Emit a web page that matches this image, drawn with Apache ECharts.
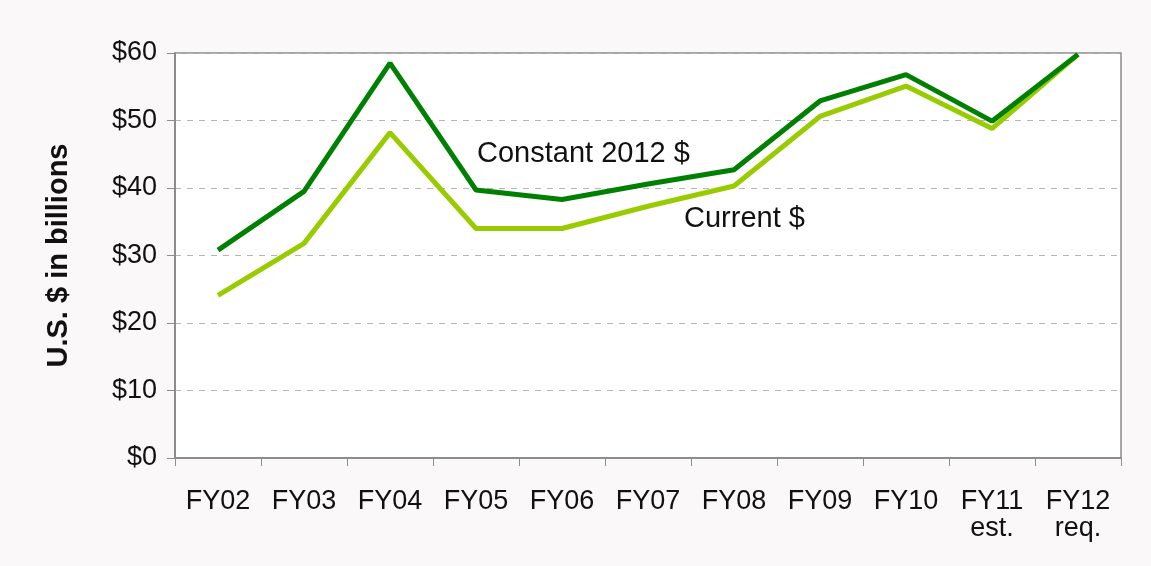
<!DOCTYPE html>
<html>
<head>
<meta charset="utf-8">
<script src="https://cdn.jsdelivr.net/npm/echarts@6/dist/echarts.min.js"></script>
<style>
  html, body { margin: 0; padding: 0; background: #faf8f9; }
  #chart { width: 1151px; height: 566px; }
</style>
</head>
<body>
<div id="chart"></div>
<script>
  // fiscal years
  var years = ['FY02', 'FY03', 'FY04', 'FY05', 'FY06', 'FY07', 'FY08', 'FY09', 'FY10', 'FY11\nest.', 'FY12\nreq.']
  // US $ in billions
  var constant2012 = [30.8, 39.5, 58.5, 39.7, 38.3, 40.6, 42.7, 52.9, 56.8, 49.9, 59.8]
  var current = [24.1, 31.8, 48.2, 34.0, 34.0, 37.3, 40.3, 50.6, 55.1, 48.8, 59.8]
  var yTicks = [0, 10, 20, 30, 40, 50, 60]

  var font = 'Arial, "Liberation Sans", sans-serif'
  var myChart = echarts.init(document.getElementById('chart'))
  myChart.setOption({
    backgroundColor: '#faf8f9',
    animation: false,
    grid: {
      left: 175,
      right: 30,
      top: 53,
      bottom: 108,
      show: true,
      backgroundColor: '#fff',
      borderColor: '#8c8c8c',
      borderWidth: 1.5
    },
    xAxis: {
      type: 'category',
      data: years,
      boundaryGap: true,
      axisLine: { lineStyle: { color: '#8c8c8c', width: 2 } },
      axisTick: { show: true, length: 8, lineStyle: { color: '#8c8c8c', width: 1 } },
      axisLabel: {
        interval: 0,
        color: '#111',
        fontFamily: font,
        fontSize: 27,
        lineHeight: 27,
        margin: 30
      },
      splitLine: { show: false }
    },
    yAxis: {
      type: 'value',
      min: yTicks[0],
      max: yTicks[yTicks.length - 1],
      interval: 10,
      name: 'U.S. $ in billions',
      nameLocation: 'middle',
      nameRotate: 90,
      nameGap: 102,
      nameTextStyle: { color: '#111', fontFamily: font, fontSize: 29, fontWeight: 'bold' },
      axisLine: { show: true, lineStyle: { color: '#8c8c8c', width: 2 } },
      axisTick: { show: true, length: 8, lineStyle: { color: '#8c8c8c', width: 1 } },
      axisLabel: {
        color: '#111',
        fontFamily: font,
        fontSize: 27,
        margin: 18,
        formatter: function (v) { return '$' + v }
      },
      splitLine: { show: true, lineStyle: { color: '#b4b4b4', type: [6, 6], width: 1 } }
    },
    graphic: [
      { type: 'text', left: 477, top: 139, style: { text: 'Constant 2012 $', fill: '#111', font: '29px ' + font } },
      { type: 'text', left: 684, top: 204, style: { text: 'Current $', fill: '#111', font: '29px ' + font } }
    ],
    series: [
      {
        name: 'Current $',
        type: 'line',
        data: current,
        symbol: 'none',
        lineStyle: { color: '#99cc00', width: 5 },
        itemStyle: { color: '#99cc00' }
      },
      {
        name: 'Constant 2012 $',
        type: 'line',
        data: constant2012,
        symbol: 'none',
        lineStyle: { color: '#008000', width: 5 },
        itemStyle: { color: '#008000' }
      }
    ]
  })
</script>
</body>
</html>
